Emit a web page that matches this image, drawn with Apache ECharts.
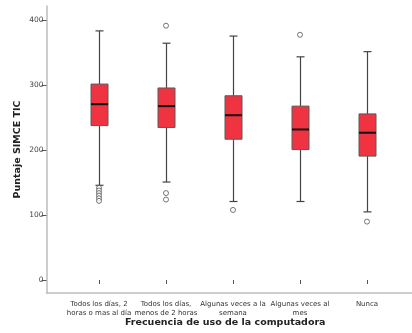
<!DOCTYPE html>
<html><head><meta charset="utf-8">
<script src="https://cdn.jsdelivr.net/npm/echarts@6/dist/echarts.min.js"></script>
<style>html,body{margin:0;padding:0;background:#fff}#c{width:412px;height:333px}</style>
</head><body><div id="c"></div>
<script>
var categories = ['Todos los días, 2\nhoras o mas al día', 'Todos los días,\nmenos de 2 horas', 'Algunas veces a la\nsemana', 'Algunas veces al\nmes', 'Nunca'];
var whiskerLow = [146, 151, 121, 121, 105];
var q1 = [238, 235, 217, 201, 191];
var median = [271, 268, 254, 232, 227];
var q3 = [302, 296, 284, 268, 256];
var whiskerHigh = [384, 365, 376, 344, 352];
var outliers = [[0,142],[0,138],[0,134],[0,130],[0,126],[0,122],[1,392],[1,134],[1,124],[2,108],[3,378],[4,90]];
var yTicks = [0, 100, 200, 300, 400];

var boxData = categories.map(function(c,i){ return [i, whiskerLow[i], q1[i], median[i], q3[i], whiskerHigh[i]]; });
var FONT = 'DejaVu Sans';
var chart = echarts.init(document.getElementById('c'), null, {renderer:'canvas'});
chart.setOption({
  animation:false,
  backgroundColor:'#fff',
  grid:[
    {left:65.5, right:11.5, top:20.5, bottom:53},
    {left:46.5, right:0, top:6, bottom:40}
  ],
  xAxis:[
    {gridIndex:0, type:'category', data:categories, offset:13,
     axisLine:{show:false}, axisTick:{show:true, alignWithLabel:true, length:4, lineStyle:{color:'#555'}},
     axisLabel:{fontFamily:FONT, fontSize:7, color:'#333', lineHeight:9, margin:7, interval:0},
     splitLine:{show:false}},
    {gridIndex:1, type:'value', min:0, max:1, axisLine:{show:true, lineStyle:{color:'#bdbdbd', width:1.5}},
     axisTick:{show:false}, axisLabel:{show:false}, splitLine:{show:false},
     name:'Frecuencia de uso de la computadora', nameLocation:'middle', nameGap:25,
     nameTextStyle:{fontFamily:FONT, fontSize:9.5, fontWeight:'bold', color:'#222', padding:[0,8,0,0]}}
  ],
  yAxis:[
    {gridIndex:0, type:'value', min:0, max:400, interval:100, offset:19,
     axisLine:{show:false}, axisTick:{show:true, length:5, lineStyle:{color:'#555'}},
     axisLabel:{fontFamily:FONT, fontSize:7.5, color:'#444', margin:3,
       formatter:function(v){ return yTicks.indexOf(v) >= 0 ? String(v) : ''; }},
     splitLine:{show:false}},
    {gridIndex:1, type:'value', min:0, max:1, axisLine:{show:true, lineStyle:{color:'#bdbdbd', width:1.5}},
     axisTick:{show:false}, axisLabel:{show:false}, splitLine:{show:false},
     name:'Puntaje SIMCE TIC', nameLocation:'middle', nameGap:24,
     nameTextStyle:{fontFamily:FONT, fontSize:9.5, fontWeight:'bold', color:'#222'}}
  ],
  series:[
    {type:'custom', xAxisIndex:0, yAxisIndex:0, data:boxData, clip:false,
     renderItem:function(params, api){
       var x = api.value(0);
       var pLow = api.coord([x, api.value(1)]);
       var pQ1 = api.coord([x, api.value(2)]);
       var pMed = api.coord([x, api.value(3)]);
       var pQ3 = api.coord([x, api.value(4)]);
       var pHigh = api.coord([x, api.value(5)]);
       var cx = Math.round(pLow[0]) + 0.5;
       var bw = 17, cw = 8;
       var ls = {stroke:'#444', lineWidth:1.2};
       return {type:'group', children:[
         {type:'line', shape:{x1:cx, y1:pHigh[1], x2:cx, y2:pQ3[1]}, style:ls},
         {type:'line', shape:{x1:cx, y1:pQ1[1], x2:cx, y2:pLow[1]}, style:ls},
         {type:'line', shape:{x1:cx-cw/2, y1:pHigh[1], x2:cx+cw/2, y2:pHigh[1]}, style:ls},
         {type:'line', shape:{x1:cx-cw/2, y1:pLow[1], x2:cx+cw/2, y2:pLow[1]}, style:ls},
         {type:'rect', shape:{x:cx-bw/2, y:pQ3[1], width:bw, height:pQ1[1]-pQ3[1]},
          style:{fill:'#ef3340', stroke:'#5a5a5a', lineWidth:1}},
         {type:'line', shape:{x1:cx-bw/2, y1:pMed[1], x2:cx+bw/2, y2:pMed[1]}, style:{stroke:'#111', lineWidth:2}}
       ]};
     }},
    {type:'scatter', xAxisIndex:0, yAxisIndex:0, data:outliers, symbol:'circle', symbolSize:5,
     itemStyle:{color:'#fff', borderColor:'#555', borderWidth:1}}
  ]
});
</script></body></html>
